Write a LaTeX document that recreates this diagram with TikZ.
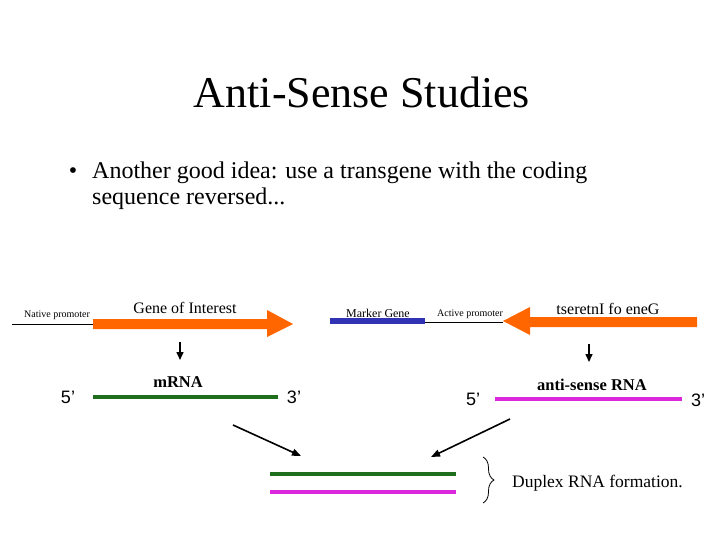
\documentclass[tikz,border=0pt]{standalone}
\usepackage{fontspec}
\setmainfont{Liberation Serif}
\newfontfamily\arialf{Liberation Sans}
\usetikzlibrary{arrows.meta,decorations.pathreplacing}
\definecolor{geneorange}{RGB}{255,102,0}
\definecolor{rnagreen}{RGB}{30,110,30}
\definecolor{rnamag}{RGB}{220,40,220}
\definecolor{markblue}{RGB}{50,50,180}
\tikzset{
  txt/.style={inner sep=0pt, anchor=base},
  genelbl/.style={txt, font=\fontsize{16}{18}\selectfont},
  smalllbl/.style={txt, font=\fontsize{10}{12}\selectfont},
  rnalbl/.style={txt, font=\fontsize{16.5}{18}\selectfont\bfseries},
  endlbl/.style={txt, font=\arialf\fontsize{18}{20}\selectfont},
  thinline/.style={line width=1pt},
  strand/.style={line width=3.6pt},
  downarrow/.style={line width=1.5pt, -{Triangle[length=8pt,width=7pt]}},
  diagarrow/.style={line width=1.6pt, -{Triangle[length=9pt,width=7pt]}},
  genearrow/.style={fill=geneorange, draw=none}
}
\begin{document}
\begin{tikzpicture}[x=1pt,y=-1pt]
\useasboundingbox (0,0) rectangle (720,540);
\fill[white] (0,0) rectangle (720,540);

% title and bullet
\node[txt, font=\fontsize{44}{50}\selectfont] (title) at (362,108) {Anti-Sense Studies};
\node[txt, font=\fontsize{24}{27}\selectfont] (bullet) at (73,179) {•};
\node[txt, anchor=base west, font=\fontsize{24}{27}\selectfont] (line1) at (92,179) {Another good idea: use a transgene with the coding};
\node[txt, anchor=base west, font=\fontsize{24}{27}\selectfont] (line2) at (92,205) {sequence reversed...};

% construct 1: native promoter + gene of interest
\coordinate (np0) at (12,324);
\coordinate (np1) at (93,324);
\draw[thinline] (np0) -- (np1);
\node[smalllbl] (nplbl) at (57,317) {Native promoter};
\fill[genearrow] (93,319) -- (267,319) -- (267,310) -- (293,324) -- (267,337) -- (267,329) -- (93,329) -- cycle;
\node[genelbl] (goi) at (185,313) {Gene of Interest};

% marker gene + active promoter + reversed gene
\coordinate (mg0) at (330,321);
\coordinate (mg1) at (425,321);
\draw[markblue, line width=6pt] (mg0) -- (mg1);
\node[txt, font=\fontsize{12}{14}\selectfont] (mglbl) at (378,317) {Marker Gene};
\coordinate (ap0) at (425,322);
\coordinate (ap1) at (503,322);
\draw[thinline] (ap0) -- (ap1);
\node[smalllbl] (aplbl) at (470,316) {Active promoter};
\fill[genearrow] (697,317) -- (530,317) -- (530,307) -- (503,321) -- (530,335) -- (530,327) -- (697,327) -- cycle;
\node[genelbl] (goirev) at (608,314) {tseretnI fo eneG};

% transcription arrows
\coordinate (d1a) at (180,342);
\coordinate (d1b) at (180,360);
\draw[downarrow] (d1a) -- (d1b);
\coordinate (d2a) at (589,344);
\coordinate (d2b) at (589,362);
\draw[downarrow] (d2a) -- (d2b);

% mRNA
\node[rnalbl] (mrna) at (178,387) {mRNA};
\coordinate (m0) at (93,397);
\coordinate (m1) at (278,397);
\draw[strand, rnagreen] (m0) -- (m1);
\node[endlbl] (m5) at (68,403) {5’};
\node[endlbl] (m3) at (294,403) {3’};

% anti-sense RNA
\node[rnalbl] (asrna) at (592,390) {anti-sense RNA};
\coordinate (a0) at (495,399);
\coordinate (a1) at (682,399);
\draw[strand, rnamag] (a0) -- (a1);
\node[endlbl] (a5) at (473,405) {5’};
\node[endlbl] (a3) at (698,406) {3’};

% converging arrows
\coordinate (l0) at (233,425);
\coordinate (l1) at (301,456);
\draw[diagarrow] (l0) -- (l1);
\coordinate (r0) at (510,419);
\coordinate (r1) at (431,457);
\draw[diagarrow] (r0) -- (r1);

% duplex
\coordinate (dg0) at (270,474);
\coordinate (dg1) at (456,474);
\draw[strand, rnagreen] (dg0) -- (dg1);
\coordinate (dm0) at (270,492);
\coordinate (dm1) at (456,492);
\draw[strand, rnamag] (dm0) -- (dm1);
\coordinate (br0) at (483,457);
\coordinate (br1) at (483,503);
\draw[line width=0.8pt, decorate, decoration={brace, amplitude=11pt}] (br0) -- (br1);
\node[txt, anchor=base west, font=\fontsize{17.5}{20}\selectfont] (duplex) at (512,487) {Duplex RNA formation.};
\end{tikzpicture}
\end{document}
